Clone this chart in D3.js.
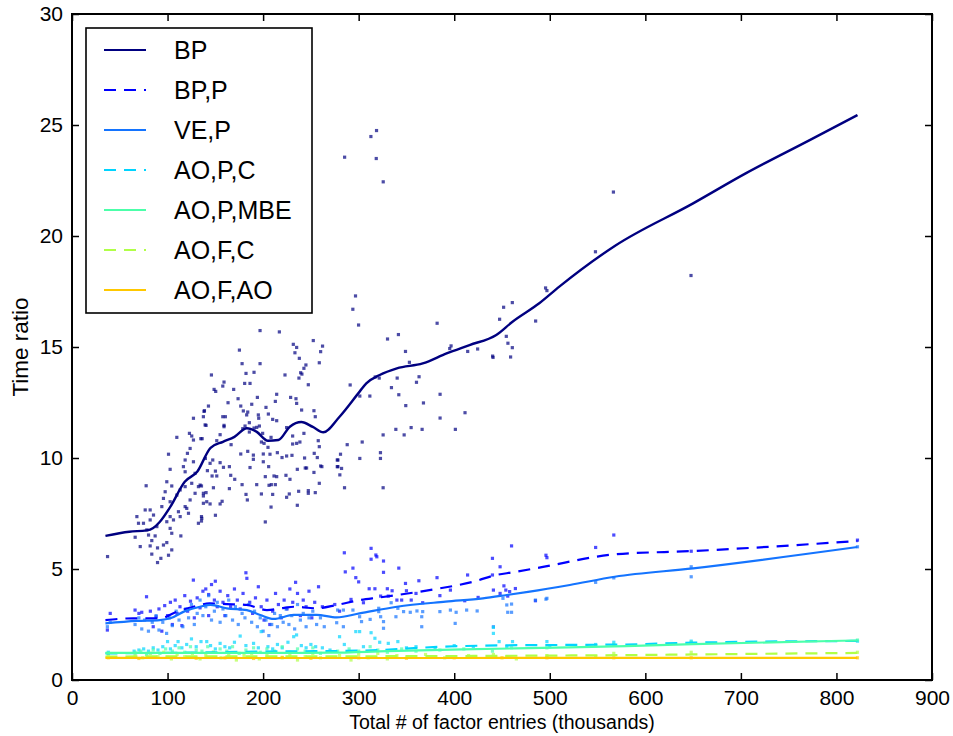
<!DOCTYPE html>
<html>
<head>
<meta charset="utf-8">
<script src="https://cdn.jsdelivr.net/npm/d3@7"></script>
<style>
  body { margin: 0; background: #fff; }
  svg { font-family: 'Liberation Sans', Arial, Helvetica, sans-serif; }
</style>
</head>
<body>
<svg id="chart" width="953" height="736"></svg>
<script>
const seriesNames = ['BP', 'BP,P', 'VE,P', 'AO,P,C', 'AO,P,MBE', 'AO,F,C', 'AO,F,AO']
const seriesColors = ['#000080', '#0000ff', '#1474ff', '#00d4ff', '#4cffaa', '#b0ff47', '#ffc800']
const seriesDashed = [false, true, false, true, false, true, false]

const xTicks = [0, 100, 200, 300, 400, 500, 600, 700, 800, 900]
const yTicks = [0, 5, 10, 15, 20, 25, 30]

// smoothed curves, [thousands of entries, time ratio]
const bpLine = [[35, 6.49], [60, 6.68], [78, 6.74], [85, 6.85], [92, 7.13], [103, 7.81], [118, 8.93], [131, 9.38],
  [145, 10.46], [158, 10.73], [170, 10.95], [183, 11.34], [193, 11.19], [205, 10.78], [216, 10.81], [228, 11.41],
  [240, 11.62], [252, 11.4], [263, 11.16], [280, 11.86], [301, 12.99], [308, 13.36], [322, 13.74], [340, 14.04],
  [367, 14.26], [392, 14.71], [416, 15.09], [444, 15.54], [461, 16.14], [489, 16.97], [510, 17.72], [568, 19.55],
  [650, 21.47], [705, 22.82], [772, 24.32], [822, 25.45]]
const bppLine = [[35, 2.7], [64, 2.78], [92, 2.78], [110, 3.08], [127, 3.3], [144, 3.45], [162, 3.42], [183, 3.38],
  [204, 3.15], [222, 3.25], [232, 3.3], [256, 3.23], [277, 3.38], [301, 3.6], [322, 3.72], [374, 4.05], [420, 4.43],
  [444, 4.73], [461, 4.85], [489, 5.06], [568, 5.66], [650, 5.81], [822, 6.26]]
const vepLine = [[35, 2.55], [68, 2.66], [92, 2.7], [103, 2.78], [117, 3.08], [134, 3.3], [145, 3.38], [162, 3.23],
  [183, 3.15], [197, 2.93], [211, 2.75], [232, 2.93], [256, 2.93], [277, 2.82], [301, 3.0], [340, 3.3], [391, 3.53],
  [430, 3.68], [455, 3.83], [479, 3.98], [521, 4.28], [568, 4.65], [650, 5.03], [822, 5.99]]
const aopcLine = [[35, 1.2], [100, 1.22], [200, 1.28], [300, 1.32], [400, 1.52], [450, 1.56], [520, 1.58], [580, 1.6],
  [650, 1.68], [822, 1.76]]
const aopmLine = [[35, 1.22], [100, 1.22], [200, 1.22], [270, 1.23], [330, 1.3], [409, 1.38], [520, 1.47], [580, 1.53],
  [650, 1.62], [822, 1.78]]
const aofcLine = [[35, 1.05], [100, 1.07], [200, 1.07], [300, 1.07], [400, 1.08], [500, 1.1], [580, 1.12], [650, 1.15],
  [822, 1.22]]
const aofaLine = [[35, 1.0], [200, 0.99], [400, 0.99], [650, 1.0], [822, 1.0]]

// raw measurements
const bpPoints = [[37.2, 5.56], [142.8, 12.34], [138.6, 12.13], [137.5, 11.86], [139.3, 11.49], [127.1, 11.79],
  [109.7, 10.93], [122.9, 11.11], [125.3, 10.99], [127.1, 10.81], [134.8, 10.87], [123.6, 10.43], [120.8, 10.21],
  [118.4, 9.91], [127.1, 9.83], [116.6, 9.61], [118.4, 9.38], [128.8, 9.31], [101.0, 10.17], [102.7, 9.49],
  [77.6, 8.75], [99.2, 8.93], [104.4, 8.74], [97.5, 8.48], [95.7, 8.18], [94.0, 7.81], [102.7, 8.03], [109.7, 8.33],
  [113.2, 8.56], [118.4, 8.71], [125.3, 8.86], [128.8, 8.41], [134.1, 8.78], [137.5, 8.41], [123.6, 8.11],
  [118.4, 7.81], [111.4, 7.58], [120.1, 7.73], [113.2, 7.36], [106.2, 7.21], [102.7, 7.36], [99.2, 7.13],
  [102.7, 6.83], [104.4, 6.61], [88.8, 6.91], [85.3, 7.43], [81.8, 7.21], [76.6, 7.66], [81.8, 7.66], [67.9, 7.36],
  [69.6, 7.06], [74.8, 7.06], [78.3, 6.76], [80.1, 6.53], [83.5, 6.28], [87.0, 6.49], [66.1, 6.43], [71.4, 6.01],
  [81.8, 6.04], [89.5, 5.95], [95.7, 6.08], [99.2, 6.19], [104.4, 5.86], [101.0, 5.62], [93.0, 5.48], [83.5, 5.67],
  [113.9, 6.49], [121.9, 7.51], [132.3, 7.06], [135.8, 7.28], [137.5, 7.96], [141.0, 8.03], [132.3, 8.71],
  [89.5, 5.29],
  [196.8, 15.74], [217.0, 15.68], [175.2, 14.86], [231.6, 15.12], [235.1, 14.98], [233.3, 14.74], [237.9, 14.49],
  [252.5, 15.29], [262.2, 15.04], [260.2, 14.79], [258.8, 14.29], [244.8, 14.19], [242.7, 14.04], [178.0, 14.25],
  [196.8, 14.25], [239.3, 13.84], [240.6, 13.78], [182.1, 13.81], [190.5, 13.86], [222.9, 13.74], [237.5, 13.6],
  [145.9, 13.74], [159.1, 13.42], [157.8, 13.24], [180.7, 13.36], [186.3, 13.36], [247.3, 13.3], [148.7, 13.09],
  [150.4, 13.0], [169.2, 13.09], [214.2, 12.87], [194.0, 12.73], [173.8, 12.67], [212.8, 12.55], [228.8, 12.73],
  [234.4, 12.67], [235.1, 12.46], [163.3, 12.49], [188.1, 12.42], [176.6, 12.34], [203.0, 12.28], [138.2, 12.1],
  [179.3, 12.12], [182.8, 11.94], [183.9, 12.07], [205.5, 11.98], [240.3, 12.16], [253.2, 12.13], [195.0, 11.94],
  [195.4, 11.79], [157.8, 11.86], [160.5, 11.86], [210.0, 11.74], [214.2, 11.68], [185.6, 11.59], [254.6, 11.86],
  [140.3, 11.47], [159.1, 11.47], [159.1, 11.41], [181.1, 11.44], [190.5, 11.35], [193.3, 11.38], [196.1, 11.44],
  [178.7, 11.32], [199.5, 11.11], [224.6, 11.37], [185.6, 11.17], [155.0, 11.05], [208.3, 10.93], [136.2, 10.87],
  [151.5, 10.78], [166.5, 10.6], [198.2, 10.72], [201.0, 10.66], [230.9, 10.99], [230.9, 10.63], [235.1, 10.66],
  [238.5, 10.72], [242.7, 11.11], [257.7, 10.78], [258.8, 10.51], [205.1, 10.48], [183.9, 10.3], [176.6, 10.18],
  [189.8, 10.13], [189.8, 9.94], [200.2, 10.18], [207.2, 10.17], [214.9, 10.24], [219.8, 10.02], [224.6, 10.09],
  [230.2, 10.12], [243.4, 10.0], [253.5, 10.21], [256.7, 10.02], [260.2, 9.64], [278.3, 9.91], [278.3, 9.61],
  [200.2, 9.83], [139.6, 9.98], [147.3, 9.91], [144.5, 9.76], [155.0, 9.79], [158.5, 9.58], [164.7, 9.61],
  [186.3, 9.57], [205.8, 9.61], [141.7, 9.43], [150.1, 9.41], [151.5, 9.19], [146.6, 9.19], [166.1, 9.22],
  [170.3, 9.04], [202.3, 9.16], [211.4, 9.19], [214.2, 9.16], [223.9, 9.22], [228.1, 9.04], [235.8, 9.49],
  [244.1, 9.55], [245.5, 9.55], [253.2, 9.35], [261.5, 9.61], [178.0, 8.8], [193.3, 8.8], [206.2, 8.77],
  [208.6, 8.8], [212.8, 8.8], [258.8, 8.86], [164.7, 8.62], [148.0, 8.66], [135.5, 8.74], [140.3, 8.44],
  [137.5, 8.29], [237.2, 8.5], [247.3, 8.53], [247.3, 8.41], [254.6, 8.44], [182.1, 8.36], [198.2, 8.38],
  [210.0, 8.36], [227.4, 8.38], [224.6, 8.23], [183.5, 8.11], [144.5, 7.93], [155.0, 7.93], [157.1, 8.05],
  [235.8, 7.87], [208.3, 7.79], [150.1, 7.42], [135.5, 7.36], [135.5, 7.16], [202.3, 7.12],
  [318.7, 24.75], [312.8, 24.48], [318.4, 23.49], [285.3, 23.55], [325.7, 22.44],
  [296.7, 17.3], [293.9, 16.7], [299.9, 15.99], [330.2, 15.36], [341.6, 15.56], [382.1, 16.07], [349.0, 14.8],
  [353.1, 14.31], [395.3, 14.93], [396.7, 15.05], [414.1, 14.8], [424.5, 14.91], [440.2, 14.59], [440.6, 14.53],
  [447.5, 16.25], [451.7, 16.79], [460.8, 17.0], [454.5, 15.48], [456.2, 15.17], [460.8, 14.97], [459.0, 14.55],
  [485.2, 16.17], [495.6, 17.66], [497.0, 17.54], [291.1, 13.29], [317.3, 13.65], [321.5, 13.6], [301.2, 12.79],
  [311.7, 12.79], [334.3, 13.17], [340.3, 13.6], [342.0, 12.85], [363.2, 13.66], [360.5, 13.41], [349.3, 12.36],
  [367.8, 12.48], [385.2, 12.87], [385.2, 11.8], [411.3, 12.04], [325.6, 11.04], [338.9, 11.29], [347.6, 11.04],
  [354.9, 11.37], [366.4, 11.29], [401.2, 11.29], [288.0, 10.6], [303.7, 10.72], [281.0, 10.17], [277.6, 9.91],
  [277.6, 9.61], [282.1, 9.53], [280.3, 9.24], [301.2, 9.98], [322.8, 10.24], [322.8, 9.98], [285.2, 8.66],
  [325.6, 8.66], [547.8, 19.29], [566.6, 21.98], [647.8, 18.22]]
const bppPoints = [[37, 2.25], [40, 3.0], [66, 3.15], [70, 3.0], [73, 3.05], [78, 3.75], [82, 3.1], [85, 2.4],
  [88, 2.85], [91, 3.2], [94, 2.2], [97, 3.35], [100, 2.9], [103, 3.5], [105, 2.5], [108, 3.6], [110, 3.0],
  [113, 3.3], [115, 2.45], [118, 3.8], [121, 3.1], [124, 3.55], [127, 4.5], [128, 2.8], [131, 3.7], [134, 3.25],
  [137, 4.0], [140, 4.1], [143, 3.85], [143, 2.9], [146, 4.3], [149, 3.6], [150, 4.45], [152, 3.3], [155, 4.0],
  [158, 3.5], [160, 2.9], [163, 3.8], [166, 3.3], [170, 4.1], [173, 3.6], [176, 3.2], [179, 3.9], [182, 4.83],
  [183, 4.58], [186, 3.5], [189, 3.0], [192, 3.7], [195, 4.2], [198, 3.3], [201, 2.7], [204, 3.6], [207, 2.5],
  [210, 3.1], [213, 3.9], [216, 3.4], [219, 2.8], [222, 3.6], [225, 3.2], [228, 4.1], [231, 3.5], [234, 4.4],
  [236, 3.9], [239, 2.9], [242, 3.6], [245, 3.3], [248, 4.0], [251, 2.8], [254, 3.5], [258, 4.2], [262, 3.3],
  [275, 3.4], [280, 3.1], [285, 5.73], [286, 4.87], [292, 3.63], [294, 5.04], [297, 4.61], [300, 4.42], [305, 3.48],
  [311, 4.11], [313, 5.93], [313, 5.44], [317, 4.11], [318, 5.63], [319, 5.55], [323, 3.78], [326, 5.36],
  [326, 4.85], [330, 4.11], [331, 3.78], [335, 4.02], [340, 3.6], [342, 5.04], [345, 3.6], [349, 4.35], [350, 4.02],
  [355, 3.6], [360, 3.9], [363, 4.47], [367, 3.48], [382, 4.61], [385, 3.8], [396, 4.05], [411, 3.57], [414, 4.73],
  [425, 3.72], [440, 5.48], [440, 4.73], [441, 4.05], [448, 5.1], [448, 3.9], [452, 4.24], [454, 4.05], [456, 3.78],
  [458, 3.98], [460, 6.04], [464, 4.12], [485, 3.57], [496, 5.62], [497, 5.51], [548, 5.97], [567, 6.53],
  [648, 5.8], [822, 6.3]]
const vepPoints = [[37, 2.4], [40, 2.6], [66, 2.5], [70, 2.8], [73, 2.3], [76, 2.7], [80, 2.2], [84, 2.6], [88, 2.9],
  [91, 2.25], [95, 2.6], [99, 2.1], [102, 2.8], [105, 2.45], [109, 3.1], [112, 2.7], [116, 2.4], [119, 3.2],
  [122, 2.8], [125, 3.4], [128, 2.5], [131, 3.0], [134, 3.6], [137, 2.9], [140, 3.3], [143, 3.8], [146, 2.7],
  [149, 3.1], [152, 3.5], [155, 2.6], [158, 3.2], [161, 2.9], [164, 3.6], [168, 2.7], [171, 3.3], [174, 2.5],
  [178, 3.0], [181, 2.8], [185, 3.4], [188, 2.6], [191, 3.1], [194, 2.4], [197, 2.8], [200, 2.2], [203, 2.7],
  [206, 2.0], [209, 2.5], [212, 3.0], [215, 2.4], [218, 2.9], [221, 2.6], [224, 3.2], [227, 2.5], [230, 2.9],
  [233, 2.3], [236, 3.4], [239, 2.7], [242, 3.0], [245, 2.4], [248, 2.8], [252, 3.1], [256, 2.5], [260, 2.8],
  [264, 2.4], [277, 2.58], [278, 3.15], [284, 3.15], [284, 2.4], [294, 3.15], [301, 2.85], [303, 2.63], [312, 2.73],
  [321, 3.23], [321, 3.08], [323, 2.85], [326, 2.63], [326, 2.33], [334, 3.48], [339, 2.85], [341, 3.23],
  [347, 3.08], [354, 3.05], [361, 3.11], [366, 2.85], [366, 2.4], [367, 3.08], [385, 3.08], [396, 3.15],
  [401, 2.55], [402, 3.05], [413, 3.15], [424, 3.11], [441, 2.4], [451, 3.68], [455, 3.38], [456, 3.05],
  [460, 3.05], [460, 3.42], [485, 3.6], [496, 3.64], [497, 3.68], [548, 4.4], [567, 4.6], [648, 4.65], [648, 5.1],
  [822, 6.0]]
const aopcPoints = [[38, 1.25], [65, 1.3], [70, 1.35], [75, 1.4], [80, 1.3], [85, 1.45], [90, 1.35], [95, 1.5],
  [100, 1.73], [103, 1.4], [108, 1.55], [111, 1.73], [115, 1.45], [120, 1.6], [125, 1.85], [130, 1.5], [135, 1.73],
  [141, 1.73], [145, 1.55], [150, 1.4], [155, 1.65], [160, 1.5], [165, 1.45], [170, 1.7], [176, 1.98], [182, 1.55],
  [190, 1.65], [195, 1.45], [198, 2.18], [205, 1.5], [210, 1.4], [215, 1.6], [220, 1.45], [226, 1.7], [232, 1.95],
  [235, 2.03], [240, 1.55], [245, 1.45], [250, 1.6], [255, 1.5], [262, 1.45], [270, 1.35], [280, 1.95], [285, 1.6],
  [297, 2.18], [301, 2.18], [305, 1.5], [313, 2.13], [317, 1.88], [322, 1.7], [331, 1.65], [341, 1.73], [350, 1.45],
  [360, 1.5], [380, 1.4], [400, 1.55], [420, 1.5], [441, 2.37], [441, 2.1], [447, 1.73], [455, 1.5], [461, 1.73],
  [497, 1.73], [500, 1.5], [548, 1.6], [567, 1.7], [648, 1.75], [822, 1.75]]
const aopmPoints = [[38, 1.2], [66, 1.25], [72, 1.3], [78, 1.15], [85, 1.35], [92, 1.2], [98, 1.4], [105, 1.3],
  [112, 1.45], [118, 1.25], [124, 1.5], [130, 1.35], [136, 1.3], [142, 1.5], [148, 1.25], [155, 1.4], [162, 1.3],
  [168, 1.5], [175, 1.2], [182, 1.35], [190, 1.45], [197, 1.25], [204, 1.4], [212, 1.3], [220, 1.5], [228, 1.25],
  [236, 1.4], [244, 1.3], [252, 1.45], [260, 1.2], [278, 1.3], [290, 1.4], [300, 1.3], [312, 1.5], [320, 1.35],
  [330, 1.25], [345, 1.4], [360, 1.3], [385, 1.35], [410, 1.4], [440, 1.3], [460, 1.45], [497, 1.45], [548, 1.55],
  [567, 1.6], [648, 1.7], [822, 1.8]]
const aofcPoints = [[38, 1.1], [66, 1.15], [74, 1.0], [82, 1.2], [90, 1.05], [96, 1.25], [104, 0.95], [110, 1.15],
  [118, 1.05], [126, 1.2], [134, 0.95], [140, 1.1], [148, 1.25], [156, 1.0], [164, 1.15], [172, 0.9], [180, 1.1],
  [188, 1.2], [196, 0.95], [204, 1.1], [212, 1.25], [220, 1.0], [228, 1.15], [236, 0.9], [244, 1.05], [252, 1.2],
  [260, 1.0], [280, 1.1], [292, 0.9], [300, 1.15], [310, 1.0], [320, 1.2], [330, 0.95], [340, 1.1], [355, 1.05],
  [370, 1.15], [390, 1.0], [415, 1.1], [441, 1.15], [455, 1.05], [465, 0.95], [497, 1.1], [548, 1.05], [567, 1.2],
  [648, 1.25], [822, 1.25]]
const aofaPoints = [[38, 1.0], [70, 0.97], [100, 1.02], [130, 0.98], [160, 1.0], [190, 0.97], [220, 1.02],
  [250, 0.98], [300, 1.0], [350, 0.98], [400, 1.0], [450, 1.0], [497, 1.0], [567, 1.0], [648, 1.0], [822, 1.0]]

const lines = [bpLine, bppLine, vepLine, aopcLine, aopmLine, aofcLine, aofaLine]
const points = [bpPoints, bppPoints, vepPoints, aopcPoints, aopmPoints, aofcPoints, aofaPoints]

const margin = { top: 14, right: 21, bottom: 56, left: 72 }
const width = 953
const height = 736
const plotW = width - margin.left - margin.right
const plotH = height - margin.top - margin.bottom

const svg = d3.select('#chart')
const g = svg.append('g').attr('transform', `translate(${margin.left},${margin.top})`)

const x = d3.scaleLinear().domain([0, 900]).range([0, plotW])
const y = d3.scaleLinear().domain([0, 30]).range([plotH, 0])

g.append('defs').append('clipPath').attr('id', 'clip')
  .append('rect').attr('width', plotW).attr('height', plotH)

const plot = g.append('g').attr('clip-path', 'url(#clip)')

// scatter first, curves on top
points.forEach((pts, i) => {
  plot.append('g')
    .attr('fill', seriesColors[i])
    .attr('fill-opacity', 0.7)
    .selectAll('rect')
    .data(pts)
    .join('rect')
    .attr('x', d => x(d[0]) - 1.6)
    .attr('y', d => y(d[1]) - 1.6)
    .attr('width', 3.2)
    .attr('height', 3.2)
})

const line = d3.line()
  .x(d => x(d[0]))
  .y(d => y(d[1]))
  .curve(d3.curveMonotoneX)

lines.forEach((data, i) => {
  plot.append('path')
    .datum(data)
    .attr('fill', 'none')
    .attr('stroke', seriesColors[i])
    .attr('stroke-width', i === 0 ? 2.4 : 2.2)
    .attr('stroke-dasharray', seriesDashed[i] ? '12,8' : null)
    .attr('d', line)
})

// axes: ticks point inward on all four sides
const tickLen = 7
const styleAxis = (sel) => {
  sel.select('.domain').remove()
  sel.selectAll('line').attr('stroke', '#000').attr('stroke-width', 1.5)
  sel.selectAll('text').attr('font-size', 21).attr('fill', '#000')
    .attr('font-family', "'Liberation Sans', Arial, sans-serif")
}

g.append('g').attr('transform', `translate(0,${plotH})`)
  .call(d3.axisBottom(x).tickValues(xTicks).tickSizeInner(-tickLen).tickSizeOuter(0).tickPadding(10))
  .call(styleAxis)
g.append('g')
  .call(d3.axisTop(x).tickValues(xTicks).tickSizeInner(-tickLen).tickSizeOuter(0).tickFormat(''))
  .call(styleAxis)
g.append('g')
  .call(d3.axisLeft(y).tickValues(yTicks).tickSizeInner(-tickLen).tickSizeOuter(0).tickPadding(9))
  .call(styleAxis)
g.append('g').attr('transform', `translate(${plotW},0)`)
  .call(d3.axisRight(y).tickValues(yTicks).tickSizeInner(-tickLen).tickSizeOuter(0).tickFormat(''))
  .call(styleAxis)

g.append('rect')
  .attr('width', plotW).attr('height', plotH)
  .attr('fill', 'none').attr('stroke', '#000').attr('stroke-width', 2)

g.append('text')
  .attr('x', plotW / 2).attr('y', plotH + 49)
  .attr('text-anchor', 'middle')
  .attr('font-size', 19.5)
  .text('Total # of factor entries (thousands)')

g.append('text')
  .attr('transform', `translate(${20 - margin.left},${plotH / 2}) rotate(-90)`)
  .attr('text-anchor', 'middle')
  .attr('dominant-baseline', 'central')
  .attr('font-size', 22.5)
  .text('Time ratio')

// legend
const legend = g.append('g').attr('transform', 'translate(14,14)')
legend.append('rect')
  .attr('width', 226).attr('height', 285)
  .attr('fill', '#fff').attr('stroke', '#000').attr('stroke-width', 1.6)

const item = legend.selectAll('.item')
  .data(seriesNames)
  .join('g')
  .attr('class', 'item')
  .attr('transform', (d, i) => `translate(0,${22 + i * 40})`)

item.append('line')
  .attr('x1', 18).attr('x2', 60)
  .attr('stroke', (d, i) => seriesColors[i])
  .attr('stroke-width', 2.2)
  .attr('stroke-dasharray', (d, i) => seriesDashed[i] ? '12,8' : null)

item.append('text')
  .attr('x', 88)
  .attr('dominant-baseline', 'central')
  .attr('font-size', 25)
  .text(d => d)
</script>
</body>
</html>
